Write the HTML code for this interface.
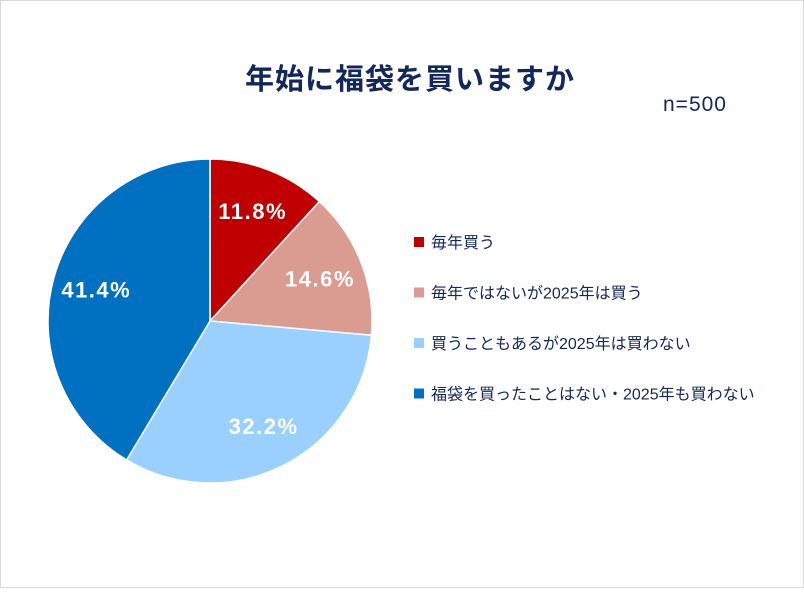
<!DOCTYPE html>
<html><head><meta charset="utf-8"><style>
body{margin:0;background:#fff;}
#wrap{position:relative;width:802px;height:586px;border:1px solid #d9d9d9;background:#fff;font-family:"Liberation Sans","Noto Sans CJK JP",sans-serif;}
</style></head><body>
<div id="wrap">
<svg id="chart" width="802" height="586">
<text x="409" y="88" text-anchor="middle" font-size="29" font-weight="bold" fill="#12275c" letter-spacing="1" font-family="Liberation Sans,Noto Sans CJK JP,sans-serif">年始に福袋を買いますか</text>
<text x="694" y="110" text-anchor="middle" font-size="21" fill="#12275c" letter-spacing="1" font-family="Liberation Sans,sans-serif">n=500</text>
<g id="slices"></g><g id="labels"></g><g id="legend"></g>
</svg>
</div>
<script>
const categories=["毎年買う","毎年ではないが2025年は買う","買うこともあるが2025年は買わない","福袋を買ったことはない・2025年も買わない"];
const values=[11.8,14.6,32.2,41.4];
const valueLabels=["11.8%","14.6%","32.2%","41.4%"];
const colors=["#c00000","#da9b91","#99d0ff","#0070c0"];
const ns="http://www.w3.org/2000/svg";
const cx=209,cy=320,R=162;
const total=values.reduce((a,b)=>a+b,0);
let a0=0;
const sl=document.getElementById('slices'),lb=document.getElementById('labels'),lg=document.getElementById('legend');
function pt(a,r){return [cx+r*Math.sin(a),cy-r*Math.cos(a)];}
values.forEach((v,i)=>{
  const a1=a0+v/total*2*Math.PI;
  const p0=pt(a0,R),p1=pt(a1,R);
  const large=(a1-a0)>Math.PI?1:0;
  const p=document.createElementNS(ns,'path');
  p.setAttribute('d',`M${cx},${cy}L${p0[0]},${p0[1]}A${R},${R} 0 ${large} 1 ${p1[0]},${p1[1]}Z`);
  p.setAttribute('fill',colors[i]);p.setAttribute('stroke','#fff');p.setAttribute('stroke-width','1.5');
  
  
  sl.appendChild(p);
  const m=(a0+a1)/2,lp=pt(m,118);
  const t=document.createElementNS(ns,'text');
  t.setAttribute('x',lp[0]);t.setAttribute('y',lp[1]+8);t.setAttribute('text-anchor','middle');
  t.setAttribute('font-size','22');t.setAttribute('font-weight','bold');t.setAttribute('fill','#fff');t.setAttribute('letter-spacing','1.5');
  t.textContent=valueLabels[i];
  
  
  lb.appendChild(t);
  const y=241+i*50.5;
  const r=document.createElementNS(ns,'rect');
  r.setAttribute('x',413);r.setAttribute('y',y-5);r.setAttribute('width',10);r.setAttribute('height',10);r.setAttribute('fill',colors[i]);
  
  
  lg.appendChild(r);
  const lt=document.createElementNS(ns,'text');
  lt.setAttribute('x',430);lt.setAttribute('y',y+6);lt.setAttribute('font-size','16');lt.setAttribute('fill','#12275c');
  lt.textContent=categories[i];
  
  
  lg.appendChild(lt);
  a0=a1;
});
</script>
</body></html>
